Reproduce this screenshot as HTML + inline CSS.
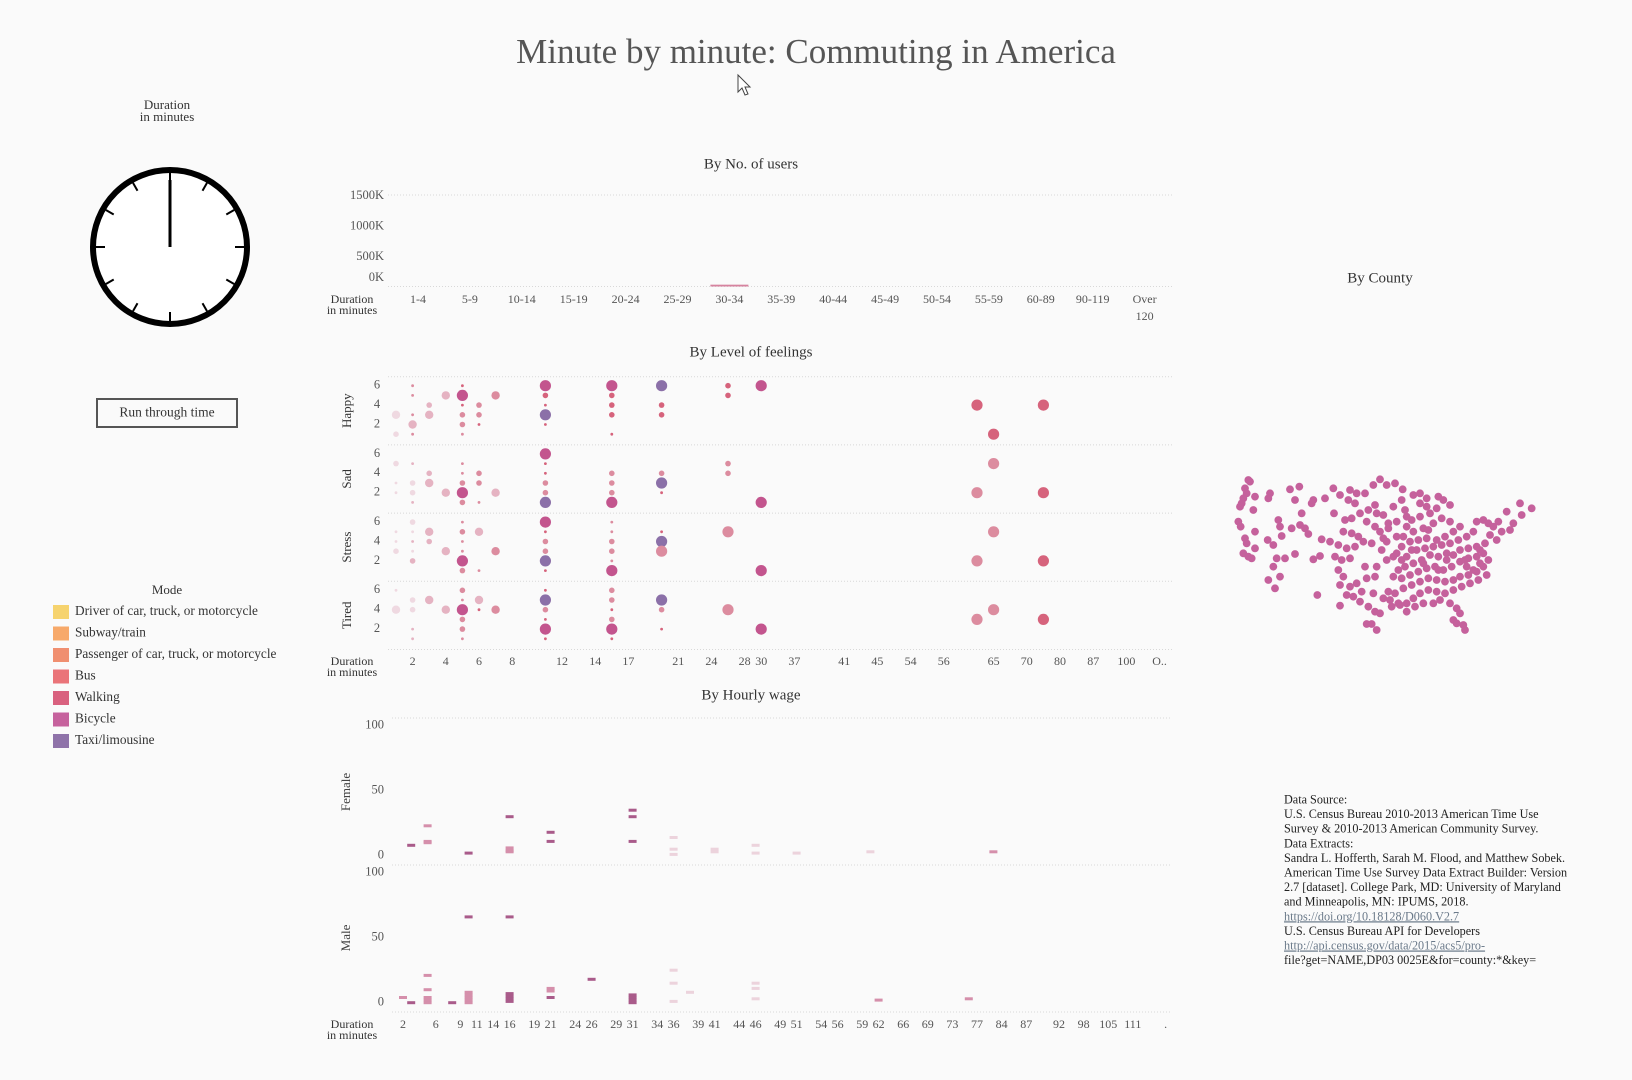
<!DOCTYPE html>
<html><head><meta charset="utf-8"><title>Minute by minute: Commuting in America</title>
<style>
html,body{margin:0;padding:0;background:#fafafa;}
body{width:1632px;height:1080px;overflow:hidden;position:relative;font-family:"Liberation Serif",serif;color:#333;}
svg{position:absolute;left:0;top:0;}
text{font-family:"Liberation Serif",serif;}
</style></head>
<body>
<svg id="root" width="1632" height="1080" viewBox="0 0 1632 1080">
<rect x="0" y="0" width="1632" height="1080" fill="#fafafa"/>
<text x="816" y="55" text-anchor="middle" dominant-baseline="middle" font-size="35" fill="#555">Minute by minute: Commuting in America</text>
<path d="M738,75 L738,92 L742,88 L745,95 L748,94 L745,87 L750,87 Z" fill="#fff" stroke="#444" stroke-width="1"/>
<text x="167" y="106" text-anchor="middle" dominant-baseline="middle" font-size="13" fill="#333">Duration</text>
<text x="167" y="118" text-anchor="middle" dominant-baseline="middle" font-size="13" fill="#333">in minutes</text>
<g id="clock"></g>
<rect x="97" y="399" width="140" height="28" fill="#fafafa" stroke="#555" stroke-width="2"/>
<text x="167" y="413.5" text-anchor="middle" dominant-baseline="middle" font-size="13.5" fill="#333">Run through time</text>
<text x="167" y="591" text-anchor="middle" dominant-baseline="middle" font-size="13" fill="#333">Mode</text>
<g id="legend"></g>
<g id="users"></g>
<g id="feel"></g>
<g id="wage"></g>
<text x="1380" y="279" text-anchor="middle" dominant-baseline="middle" font-size="15" fill="#333">By County</text>
<g id="map"></g>
<g id="source"></g>
</svg>
<script>
// ===== data =====
const modeNames = ["Driver of car, truck, or motorcycle","Subway/train","Passenger of car, truck, or motorcycle","Bus","Walking","Bicycle","Taxi/limousine"];
const modeColors = ["#f6d36e","#f7a96a","#f08f70","#ea7479","#d9617f","#c6629d","#8f73a9"];

const usersCats = ["1-4","5-9","10-14","15-19","20-24","25-29","30-34","35-39","40-44","45-49","50-54","55-59","60-89","90-119","Over 120"];
const usersVals = [0,0,0,0,0,0,30,0,0,0,0,0,0,0,0];
const usersTicks = [0,500,1000,1500];

const feelCats = [1,2,3,4,5,6,7,8,10,11,12,13,14,15,17,18,20,21,22,24,25,28,30,35,37,38,40,41,43,45,50,54,55,56,58,62,65,68,70,75,80,85,87,90,100,110,"O.."];
const feelTicks = [2,4,6,8,12,14,17,21,24,28,30,37,41,45,54,56,65,70,80,87,100,"O.."];
const feelLevelTicks = [2,4,6];
const feelPanels = ["Happy","Sad","Stress","Tired"];
const dotShades = ["#efd9e1","#e5b3c2","#dc8c9f","#d6637c","#c3558e","#8b70a8"];
const dotSizes = [0,1.4,2.8,4.2,5.6];
// [duration, level, sizeClass, shade]
const happyDots = [[1,3,3,0],[1,1,2,0],[2,6,1,2],[2,5,1,2],[2,3,1,2],[2,2,3,1],[2,1,1,2],[3,4,2,1],[3,3,3,1],[4,5,3,1],[5,6,1,3],[5,5,4,4],[5,4,1,3],[5,3,2,2],[5,2,2,2],[5,1,1,2],[6,4,2,2],[6,3,2,2],[6,2,1,3],[7,5,3,2],[11,6,4,4],[11,5,2,3],[11,4,1,3],[11,3,4,5],[11,2,1,3],[15,6,4,4],[15,5,2,3],[15,4,2,3],[15,3,2,3],[15,1,1,3],[20,6,4,5],[20,4,2,3],[20,3,2,3],[25,6,2,3],[25,5,2,3],[30,6,4,4],[62,4,4,3],[65,1,4,3],[75,4,4,3]];
const sadDots = [[1,5,2,0],[1,3,1,0],[1,2,1,0],[2,5,1,1],[2,3,2,0],[2,2,2,0],[2,1,1,1],[3,4,2,1],[3,3,3,1],[4,2,3,1],[5,5,1,2],[5,4,1,2],[5,3,2,2],[5,2,4,4],[5,1,2,2],[6,4,2,2],[6,3,2,2],[6,1,1,2],[7,2,3,1],[11,6,4,4],[11,5,1,3],[11,4,1,3],[11,3,2,2],[11,2,2,2],[11,1,4,5],[15,4,2,2],[15,3,2,2],[15,2,2,2],[15,1,4,4],[20,4,2,2],[20,3,4,5],[20,2,1,3],[25,5,2,2],[25,4,2,2],[30,1,4,4],[62,2,4,2],[65,5,4,2],[75,2,4,3]];
const stressDots = [[1,5,1,0],[1,4,1,0],[1,3,2,0],[2,6,2,0],[2,5,1,0],[2,4,1,1],[2,3,1,0],[2,2,2,1],[3,5,3,1],[3,4,2,1],[4,3,3,1],[5,6,1,2],[5,5,2,2],[5,4,1,2],[5,3,1,2],[5,2,4,4],[5,1,2,2],[6,5,3,1],[6,1,1,2],[7,3,3,2],[11,6,4,4],[11,5,1,3],[11,4,2,2],[11,3,2,2],[11,2,4,5],[11,1,1,3],[15,6,1,2],[15,5,1,2],[15,4,2,2],[15,3,2,2],[15,2,1,2],[15,1,4,4],[20,5,1,3],[20,4,4,5],[20,3,4,2],[25,5,4,2],[30,1,4,4],[62,2,4,2],[65,5,4,2],[75,2,4,3]];
const tiredDots = [[1,6,1,0],[1,4,3,0],[2,5,2,0],[2,4,2,0],[2,2,1,1],[2,1,1,1],[3,5,3,1],[4,4,3,1],[5,6,2,2],[5,5,1,2],[5,4,4,4],[5,3,2,2],[5,2,2,2],[5,1,1,2],[6,5,3,1],[6,4,1,3],[7,4,3,2],[11,6,1,3],[11,5,4,5],[11,4,2,2],[11,3,1,3],[11,2,4,4],[11,1,1,3],[15,6,2,2],[15,5,2,2],[15,4,1,3],[15,3,2,2],[15,2,4,4],[15,1,1,3],[20,5,4,5],[20,4,2,2],[20,2,1,3],[25,4,4,2],[30,2,4,4],[62,3,4,2],[65,4,4,2],[75,3,4,3]];

const wageCats = [2,3,4,5,6,7,8,9,10,11,12,14,15,16,17,18,19,20,21,22,23,24,25,26,27,28,29,30,31,32,33,34,35,36,37,38,39,40,41,42,43,44,45,46,47,48,49,50,51,52,53,54,55,56,57,58,59,60,62,64,65,66,67,68,69,70,71,73,74,75,77,79,81,84,85,86,87,88,89,90,92,94,96,98,100,102,105,107,109,111,114,116,118,120];
const wageTicks = [2,6,9,11,14,16,19,21,24,26,29,31,34,36,39,41,44,46,49,51,54,56,59,62,66,69,73,77,84,87,92,98,105,111,120];
const wageTickText = ["2","6","9","11","14","16","19","21","24","26","29","31","34","36","39","41","44","46","49","51","54","56","59","62","66","69","73","77","84","87","92","98","105","111","."];
const wageValueTicks = [0,50,100];
const wageShades = ["#ecd3dc","#d58fab","#a95b8a"];
// [duration, hourly wage, shade]
const femaleWages = [[3,8,2],[5,23,1],[5,11,1],[5,10,1],[10,2,2],[16,30,2],[16,6,1],[16,4,1],[16,3,1],[21,18,2],[21,11,2],[31,35,2],[31,30,2],[31,11,2],[36,14,0],[36,5,0],[36,1,0],[41,5,0],[41,3,0],[46,8,0],[46,2,0],[51,2,0],[60,3,0],[81,3,1]];
const maleWages = [[2,4,1],[3,0,2],[5,21,1],[5,10,1],[5,4,1],[5,2,1],[5,0,1],[8,0,2],[10,66,2],[10,8,1],[10,6,1],[10,4,1],[10,2,1],[10,0,1],[16,66,2],[16,7,2],[16,5,2],[16,3,2],[16,1,2],[21,11,1],[21,9,1],[21,4,2],[26,18,2],[31,6,2],[31,4,2],[31,2,2],[31,0,2],[36,25,0],[36,15,0],[36,1,0],[38,8,0],[46,15,0],[46,11,0],[46,3,0],[62,2,1],[75,3,1]];

const countyX = [85,90,75,80,70,65,60,55,62,75,80,70,85,95,100,105,105,105,150,145,210,238,225,245,240,280,275,315,340,342,175,180,185,215,255,265,143,160,170,195,225,160,180,145,165,280,300,292,305,360,390,410,385,405,435,460,480,500,525,548,375,395,420,445,465,470,440,370,395,415,330,355,380,405,430,455,345,365,390,355,370,360,390,410,440,465,380,400,420,445,465,480,440,455,470,360,490,505,460,425,435,470,500,520,485,500,480,505,530,555,520,545,490,505,465,490,580,600,620,655,670,690,650,630,600,575,560,580,610,640,665,690,720,700,675,650,620,595,570,545,530,560,590,615,640,665,690,715,740,770,790,805,820,835,860,880,900,905,935,810,830,795,770,745,720,700,680,655,630,605,580,555,535,520,545,570,595,620,645,670,695,720,745,770,790,805,790,770,745,720,700,675,650,625,600,575,550,525,510,535,560,580,600,625,650,675,700,725,750,775,800,660,690,710,720,700,710,730,735,640,610,585,560,540,515,760,780,740,620,600,560,530,550,760,845,870,545,610,680,735,780,625,655,575];
const countyY = [60,65,85,100,115,130,140,185,200,235,250,280,290,295,150,110,265,215,100,115,88,80,120,160,195,120,130,115,85,160,180,200,228,205,205,222,240,255,295,295,282,320,350,360,385,298,288,405,238,105,90,100,120,130,100,75,58,75,70,88,180,175,160,150,135,160,185,215,220,230,245,255,265,260,245,250,290,300,295,330,350,375,380,370,355,350,405,410,425,440,455,460,492,492,510,437,415,395,400,395,320,320,300,290,270,245,215,205,185,150,140,120,165,190,200,235,105,100,115,110,120,135,145,160,170,180,200,215,205,190,175,185,200,215,230,240,235,240,245,260,280,290,270,265,260,255,250,240,230,185,180,190,200,185,155,190,130,165,145,225,240,250,260,265,270,285,300,290,285,300,310,320,330,350,355,345,335,325,320,330,320,305,295,290,280,300,320,335,345,350,360,365,360,355,365,375,385,400,420,430,430,415,400,390,395,400,390,380,370,360,345,420,430,445,460,480,490,495,510,430,430,440,455,435,440,330,310,320,140,130,170,230,230,215,215,210,300,310,280,300,270,210,330,270];

// ===== helpers =====
const NS = "http://www.w3.org/2000/svg";
function mk(parent, tag, attrs, txt){
  const el = document.createElementNS(NS, tag);
  for (const k in attrs) el.setAttribute(k, attrs[k]);
  if (txt !== undefined) el.textContent = txt;
  parent.appendChild(el);
  return el;
}
const G = id => document.getElementById(id);

// ===== clock =====
(function(){
  const g = G("clock"); const cx=170, cy=247, r=77;
  let c = mk(g,"circle",{cx:cx,cy:cy,r:r,fill:"#fff",stroke:"#000","stroke-width":6});
  
  
  for (let i=0;i<12;i++){
    const a = i*Math.PI/6;
    const t = mk(g,"line",{x1:cx+Math.sin(a)*65,y1:cy-Math.cos(a)*65,x2:cx+Math.sin(a)*74,y2:cy-Math.cos(a)*74,stroke:"#000","stroke-width":2});
    
    
  }
  const h = mk(g,"line",{x1:cx,y1:cy,x2:cx,y2:cy-67,stroke:"#000","stroke-width":3});
  
  
})();

// ===== legend =====
(function(){
  const g = G("legend");
  modeNames.forEach((m,i)=>{
    const y = 612 + i*21.5;
    const s = mk(g,"rect",{x:53,y:y-7,width:16,height:14,fill:modeColors[i]});
    
    
    const t = mk(g,"text",{x:75,y:y,"dominant-baseline":"middle","font-size":13.3,fill:"#333"},m);
    
    
  });
})();

// ===== users chart =====
(function(){
  const g = G("users");
  const x = i => 418 + i*51.9;
  const y = v => 286.5 - v*(92/1500);
  const t = mk(g,"text",{x:751,y:165,"text-anchor":"middle","dominant-baseline":"middle","font-size":15,fill:"#333"},"By No. of users");
  
  
  [usersTicks[usersTicks.length-1], 0].forEach(v=>{
    const l = mk(g,"line",{x1:388,x2:1172,y1:y(v)+(v?0.5:0),y2:y(v)+(v?0.5:0),stroke:"#d8d8d8","stroke-dasharray":"1,2"});
    
    
  });
  usersTicks.forEach(v=>{
    const yy = v===0 ? y(v)-8.5 : y(v)+1.5;
    const tl = mk(g,"text",{x:384,y:yy,"text-anchor":"end","dominant-baseline":"middle","font-size":12.5,fill:"#555"},v+"K");
    
    
  });
  usersCats.forEach((c,i)=>{
    if (c==="Over 120"){
      const a = mk(g,"text",{x:x(i),y:300,"text-anchor":"middle","dominant-baseline":"middle","font-size":12,fill:"#555"},"Over");
      
      
      const b = mk(g,"text",{x:x(i),y:317,"text-anchor":"middle","dominant-baseline":"middle","font-size":12,fill:"#555"},"120");
      
      
    } else {
      const a = mk(g,"text",{x:x(i),y:300,"text-anchor":"middle","dominant-baseline":"middle","font-size":12,fill:"#555"},c);
      
      
    }
    const v = usersVals[i];
    if (v>0){
      const h = Math.max(1.5, y(0)-y(v));
      const b = mk(g,"rect",{x:x(i)-19,y:y(0)-h,width:38,height:h,fill:"#d6839f"});
      
      
    }
  });
  const d1 = mk(g,"text",{x:352,y:300,"text-anchor":"middle","dominant-baseline":"middle","font-size":12,fill:"#333"},"Duration");
  
  
  const d2 = mk(g,"text",{x:352,y:311,"text-anchor":"middle","dominant-baseline":"middle","font-size":12,fill:"#333"},"in minutes");
  
  
})();

// ===== feelings chart =====
(function(){
  const g = G("feel");
  const x = c => 396 + feelCats.indexOf(c)*16.6;
  const top = p => 376.7 + p*68.2;
  const y = (p,lv) => top(p) + 9 + (6-lv)*9.7;
  const t = mk(g,"text",{x:751,y:353,"text-anchor":"middle","dominant-baseline":"middle","font-size":15,fill:"#333"},"By Level of feelings");
  
  
  for (let p=0;p<=4;p++){
    const l = mk(g,"line",{x1:388,x2:1172,y1:top(p),y2:top(p),stroke:"#d8d8d8","stroke-dasharray":"1,2"});
    
    
  }
  const sets = [happyDots,sadDots,stressDots,tiredDots];
  feelPanels.forEach((name,p)=>{
    const cy = top(p)+34;
    const lab = mk(g,"text",{x:348,y:cy,"text-anchor":"middle","dominant-baseline":"middle","font-size":13,fill:"#333",transform:"rotate(-90 348 "+cy+")"},name);
    
    
    feelLevelTicks.forEach(lv=>{
      const tl = mk(g,"text",{x:377,y:y(p,lv),"text-anchor":"middle","dominant-baseline":"middle","font-size":12.5,fill:"#555"},String(lv));
      
      
    });
    sets[p].forEach(d=>{
      const c = mk(g,"circle",{cx:x(d[0]),cy:y(p,d[1]),r:dotSizes[d[2]],fill:dotShades[d[3]]});
      
      
    });
  });
  feelTicks.forEach(c=>{
    const tl = mk(g,"text",{x:x(c),y:662,"text-anchor":"middle","dominant-baseline":"middle","font-size":12,fill:"#555"},String(c));
    
    
  });
  const d1 = mk(g,"text",{x:352,y:662,"text-anchor":"middle","dominant-baseline":"middle","font-size":12,fill:"#333"},"Duration");
  
  
  const d2 = mk(g,"text",{x:352,y:673,"text-anchor":"middle","dominant-baseline":"middle","font-size":12,fill:"#333"},"in minutes");
  
  
})();

// ===== wage chart =====
(function(){
  const g = G("wage");
  const x = c => 403 + wageCats.indexOf(c)*8.2;
  const yF = v => 855.7 - v*1.3;
  const yM = v => 1002.7 - v*1.3;
  const t = mk(g,"text",{x:751,y:696,"text-anchor":"middle","dominant-baseline":"middle","font-size":15,fill:"#333"},"By Hourly wage");
  
  
  [718,865,1012].forEach(yy=>{
    const l = mk(g,"line",{x1:392,x2:1172,y1:yy,y2:yy,stroke:"#d8d8d8","stroke-dasharray":"1,2"});
    
    
  });
  [["Female",yF,792],["Male",yM,938]].forEach(([name,ys,cy])=>{
    const lab = mk(g,"text",{x:347,y:cy,"text-anchor":"middle","dominant-baseline":"middle","font-size":13,fill:"#444",transform:"rotate(-90 347 "+cy+")"},name);
    
    
    wageValueTicks.forEach(v=>{
      const tl = mk(g,"text",{x:384,y:ys(v),"text-anchor":"end","dominant-baseline":"middle","font-size":12.5,fill:"#555"},String(v));
      
      
    });
  });
  femaleWages.forEach(d=>{
    const r = mk(g,"rect",{x:x(d[0])-4,y:yF(d[1])-1.5,width:8,height:3,fill:wageShades[d[2]]});
    
    
  });
  maleWages.forEach(d=>{
    const r = mk(g,"rect",{x:x(d[0])-4,y:yM(d[1])-1.5,width:8,height:3,fill:wageShades[d[2]]});
    
    
  });
  wageTicks.forEach((c,i)=>{
    const tl = mk(g,"text",{x:x(c),y:1025,"text-anchor":"middle","dominant-baseline":"middle","font-size":12,fill:"#555"},wageTickText[i]);
    
    
  });
  const d1 = mk(g,"text",{x:352,y:1025,"text-anchor":"middle","dominant-baseline":"middle","font-size":12,fill:"#333"},"Duration");
  
  
  const d2 = mk(g,"text",{x:352,y:1036,"text-anchor":"middle","dominant-baseline":"middle","font-size":12,fill:"#333"},"in minutes");
  
  
})();

// ===== map =====
(function(){
  const g = G("map");
  const x = v => 1220 + v/3;
  const y = v => 460 + v/3;
  countyX.forEach((cx,i)=>{
    const c = mk(g,"circle",{cx:x(cx),cy:y(countyY[i]),r:3.9,fill:"#c5619c"});
    
    
  });
})();

// ===== source text =====
(function(){
  const g = G("source");
  const lines = [
    ["Data Source:",0],
    ["U.S. Census Bureau  2010-2013 American Time Use",0],
    ["Survey & 2010-2013 American Community Survey.",0],
    ["Data Extracts:",0],
    ["Sandra L. Hofferth, Sarah M. Flood, and Matthew Sobek.",0],
    ["American Time Use Survey Data Extract Builder: Version",0],
    ["2.7 [dataset]. College Park, MD: University of Maryland",0],
    ["and Minneapolis, MN: IPUMS, 2018.",0],
    ["https://doi.org/10.18128/D060.V2.7",1],
    ["U.S. Census Bureau API for Developers",0],
    ["http://api.census.gov/data/2015/acs5/pro-",1],
    ["file?get=NAME,DP03 0025E&for=county:*&key=",2]
  ];
  lines.forEach((l,i)=>{
    const yy = 800.7 + i*14.6;
    const t = mk(g,"text",{x:1284,y:yy,"dominant-baseline":"middle","font-size":12.2,fill:l[1]===1?"#6b7a8a":"#222","text-decoration":l[1]===1?"underline":"none"},l[0]);
    
    
  });
})();
</script>
</body></html>
